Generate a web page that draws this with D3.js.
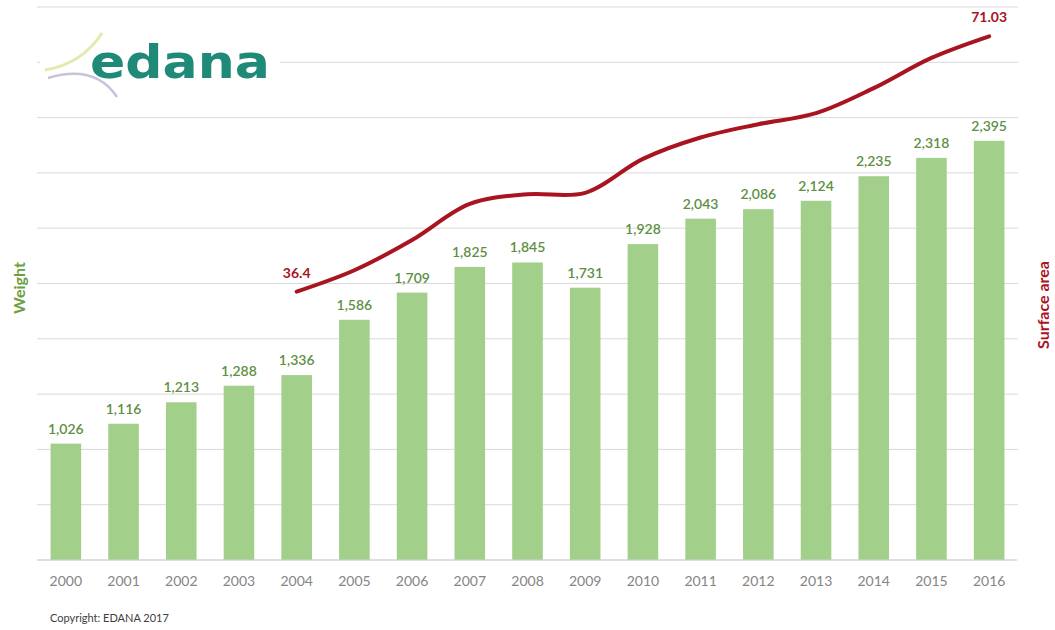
<!DOCTYPE html>
<html>
<head>
<meta charset="utf-8">
<script src="https://cdn.jsdelivr.net/npm/d3@7"></script>
<style>
  body { margin: 0; background: #fff; }
  svg { font-family: Lato, "Open Sans", sans-serif; }
</style>
</head>
<body>
<div id="chart"></div>
<script>
// values
const years = ["2000", "2001", "2002", "2003", "2004", "2005", "2006", "2007", "2008",
  "2009", "2010", "2011", "2012", "2013", "2014", "2015", "2016"];
const weight = [1026, 1116, 1213, 1288, 1336, 1586, 1709, 1825, 1845, 1731, 1928,
  2043, 2086, 2124, 2235, 2318, 2395];
const surfaceYears = ["2004", "2005", "2006", "2007", "2008", "2009", "2010", "2011",
  "2012", "2013", "2014", "2015", "2016"];
const surface = [36.4, 39.3, 43.4, 48.3, 49.6, 49.8, 54.4, 57.3, 59.1, 60.6, 64.0, 68.1, 71.03];
const surfaceLabels = [{ year: "2004", text: "36.4", value: 36.4 }, { year: "2016", text: "71.03", value: 71.03 }];
const gridValues = [500, 750, 1000, 1250, 1500, 1750, 2000, 2250, 2500, 2750, 3000];

const width = 1055, height = 630;
const margin = { top: 7, right: 37, bottom: 70, left: 37 };

const svg = d3.select("#chart").append("svg")
  .attr("width", width)
  .attr("height", height);

const x = d3.scaleBand()
  .domain(years)
  .range([margin.left, width - margin.right])
  .paddingInner(0.47)
  .paddingOuter(0.235);

const y = d3.scaleLinear()
  .domain([500, 3000])
  .range([height - margin.bottom, margin.top]);

const y2 = d3.scaleLinear()
  .domain([0, 75])
  .range([height - margin.bottom, margin.top]);

// gridlines
svg.append("g")
  .selectAll("line")
  .data(gridValues)
  .join("line")
  .attr("x1", margin.left)
  .attr("x2", width - margin.right)
  .attr("y1", d => y(d))
  .attr("y2", d => y(d))
  .attr("stroke", "#d9d9d9")
  .attr("stroke-width", 1);

// bars
svg.append("g")
  .selectAll("rect")
  .data(weight)
  .join("rect")
  .attr("x", (d, i) => x(years[i]))
  .attr("y", d => y(d))
  .attr("width", x.bandwidth())
  .attr("height", d => y(500) - y(d))
  .attr("fill", "#a2d08b");

// bar labels
svg.append("g")
  .selectAll("text")
  .data(weight)
  .join("text")
  .attr("x", (d, i) => x(years[i]) + x.bandwidth() / 2)
  .attr("y", d => y(d) - 10)
  .attr("text-anchor", "middle")
  .attr("font-size", 14)
  .attr("font-weight", 600)
  .attr("fill", "#5e8f43")
  .text(d => d3.format(",")(d));

// x axis
const xAxis = svg.append("g")
  .attr("transform", "translate(0," + y(500) + ")")
  .call(d3.axisBottom(x).tickSize(0).tickPadding(16));
xAxis.select(".domain").attr("stroke", "#d0d0d0").attr("d", "M" + margin.left + ",0H" + (width - margin.right - 3));
xAxis.selectAll("text")
  .attr("font-family", "Lato, sans-serif")
  .attr("font-size", 14)
  .attr("fill", "#858585");

// surface area line
const lineFunction = d3.line()
  .x((d, i) => x(surfaceYears[i]) + x.bandwidth() / 2)
  .y(d => y2(d))
  .curve(d3.curveCatmullRom.alpha(0.5));

svg.append("path")
  .datum(surface)
  .attr("d", lineFunction)
  .attr("fill", "none")
  .attr("stroke", "#a8141f")
  .attr("stroke-width", 4)
  .attr("stroke-linecap", "round");

svg.append("g")
  .selectAll("text")
  .data(surfaceLabels)
  .join("text")
  .attr("x", d => x(d.year) + x.bandwidth() / 2)
  .attr("y", d => y2(d.value) - 14)
  .attr("text-anchor", "middle")
  .attr("font-size", 14)
  .attr("font-weight", "bold")
  .attr("fill", "#a8141f")
  .text(d => d.text);

// axis titles
svg.append("text")
  .attr("transform", "translate(25,288) rotate(-90)")
  .attr("text-anchor", "middle")
  .attr("font-size", 16)
  .attr("font-weight", "bold")
  .attr("fill", "#6a9f3c")
  .text("Weight");

svg.append("text")
  .attr("transform", "translate(1049,305) rotate(-90)")
  .attr("text-anchor", "middle")
  .attr("font-size", 16)
  .attr("font-weight", "bold")
  .attr("fill", "#a8141f")
  .text("Surface area");

// copyright
svg.append("text")
  .attr("x", 50)
  .attr("y", 622)
  .attr("font-size", 11)
  .attr("fill", "#404040")
  .text("Copyright: EDANA 2017");

// edana logo
const logo = svg.append("g");
logo.append("rect")
  .attr("x", 40).attr("y", 22)
  .attr("width", 240).attr("height", 80)
  .attr("fill", "#fff");
logo.append("path")
  .attr("d", "M45,70 Q82,64 102,33")
  .attr("fill", "none")
  .attr("stroke", "#e4e9ad")
  .attr("stroke-width", 3);
logo.append("path")
  .attr("d", "M48,78 Q95,64 117,97")
  .attr("fill", "none")
  .attr("stroke", "#c9c2da")
  .attr("stroke-width", 2.5);
logo.append("text")
  .attr("x", 90)
  .attr("y", 78)
  .attr("font-family", "'DejaVu Sans', sans-serif")
  .attr("font-size", 46)
  .attr("font-weight", "bold")
  .attr("fill", "#1f8a78")
  .attr("textLength", 180)
  .attr("lengthAdjust", "spacingAndGlyphs")
  .text("edana");
</script>
</body>
</html>
